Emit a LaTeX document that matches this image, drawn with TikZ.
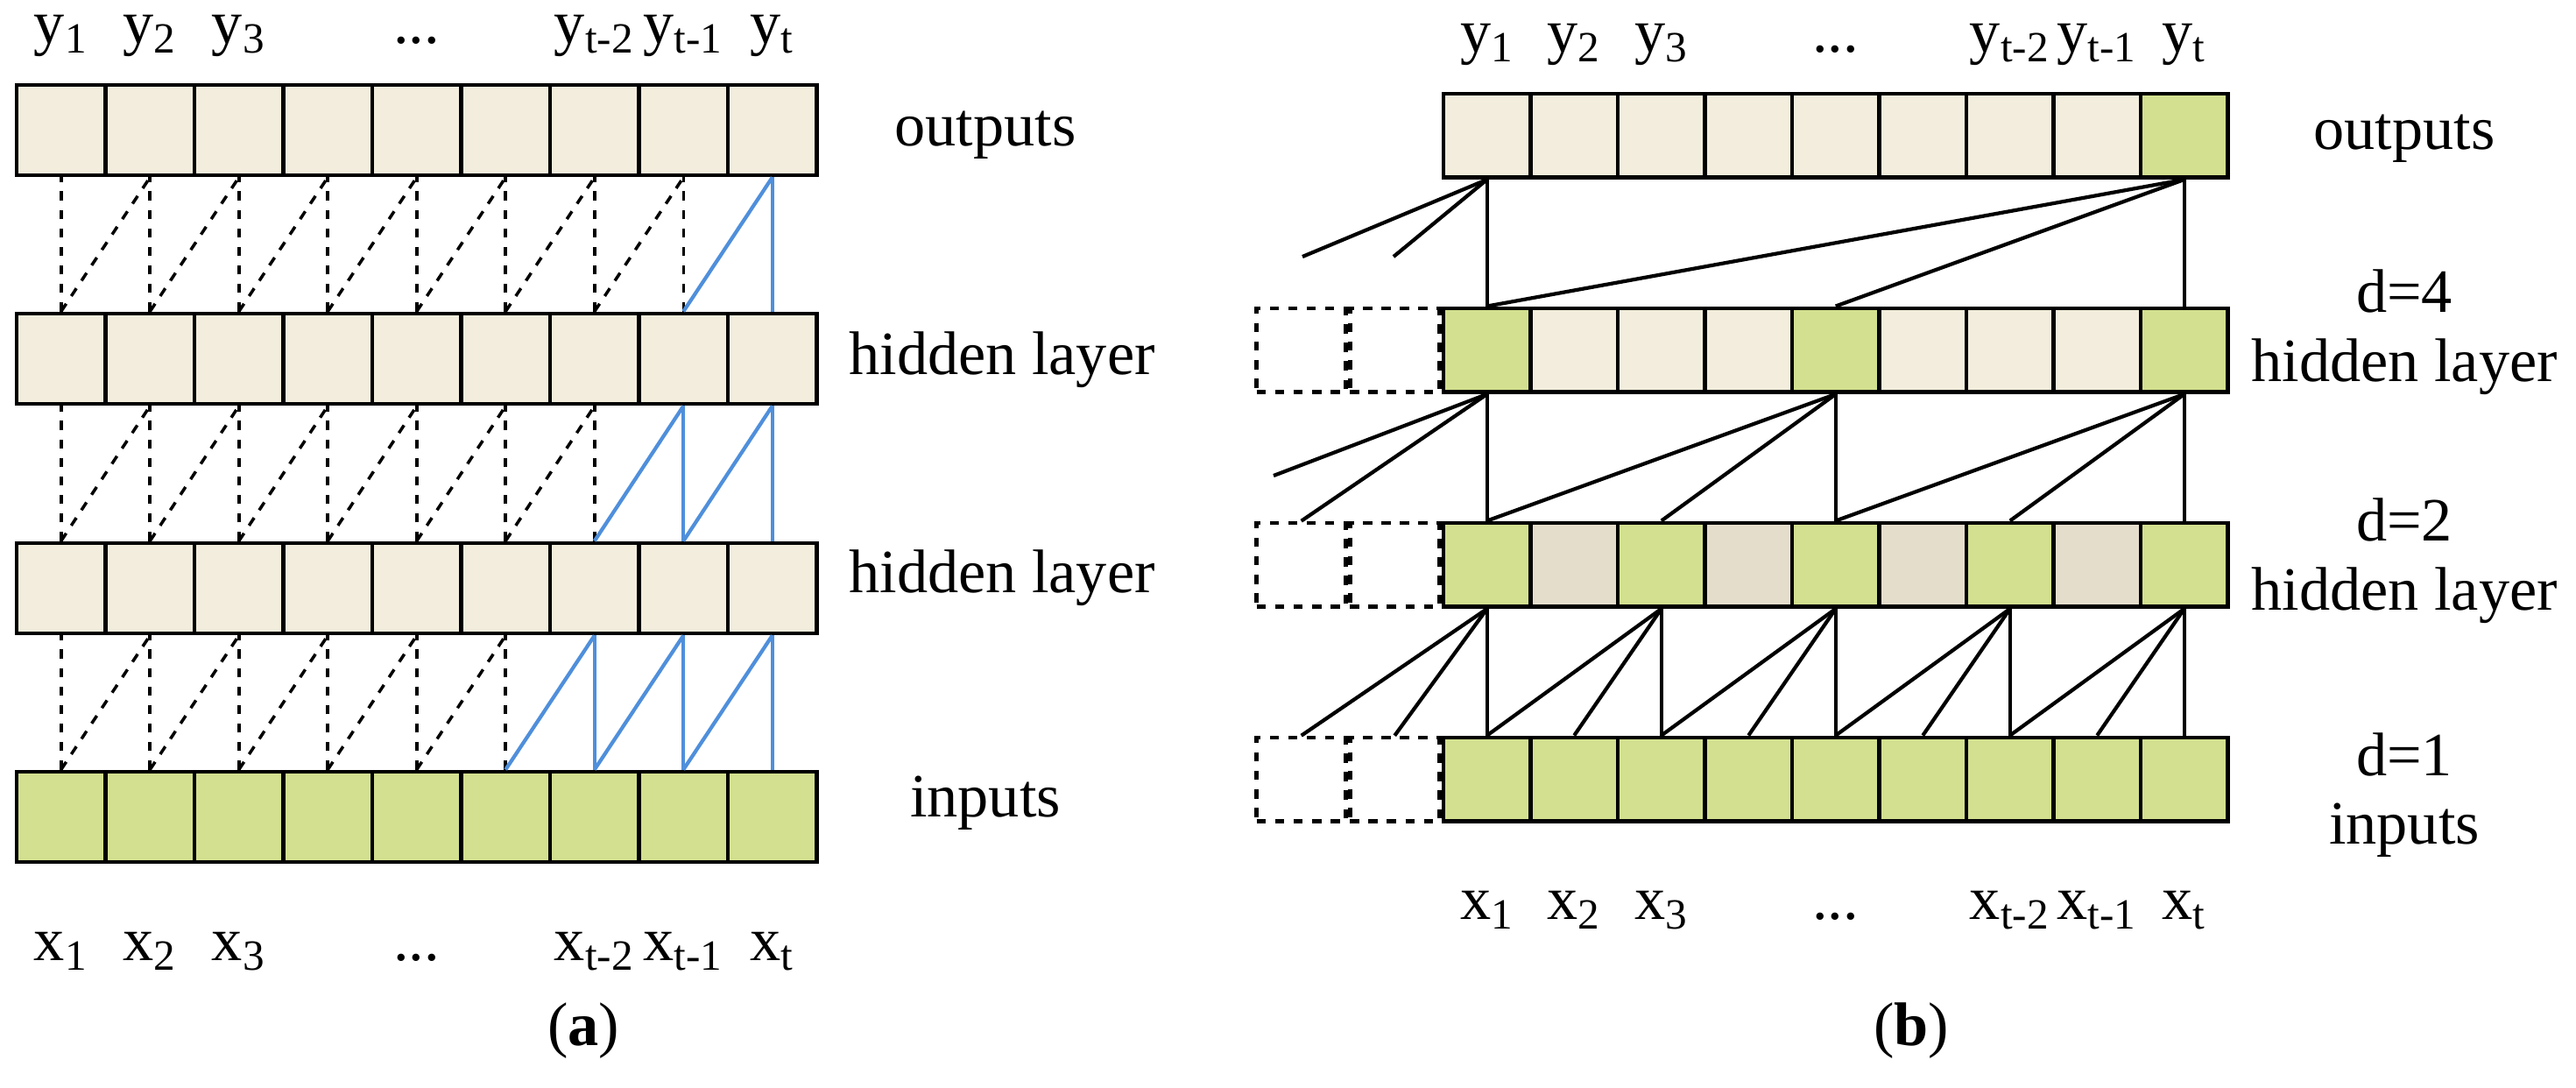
\documentclass[tikz,border=0pt]{standalone}
\usepackage{fontspec}
\setmainfont{Liberation Serif}
\definecolor{beige}{HTML}{F2EDDC}
\definecolor{leaf}{HTML}{D2E08F}
\definecolor{sand}{HTML}{E5DDCC}
\definecolor{blu}{HTML}{4F8FDB}
\tikzset{
  cella/.style={draw, line width=1.4pt, minimum width=1.015cm, minimum height=1.03cm, inner sep=0pt},
  cellb/.style={draw, line width=1.4pt, minimum width=0.995cm, minimum height=0.955cm, inner sep=0pt},
  ghost/.style={draw, dashed, line width=1.3pt, minimum width=1.02cm, minimum height=0.955cm, inner sep=0pt},
  lbl/.style={font=\fontsize{20}{24}\selectfont, inner sep=0pt},
  dsh/.style={dashed, line width=1pt},
  bl/.style={blu, line width=1.2pt},
  lnk/.style={line width=1.2pt}
}
\begin{document}
\begin{tikzpicture}
  \useasboundingbox (0,0) rectangle (29.41,-12.41);

  % (a) rows
  \foreach \r/\yy in {0/-9.325,1/-6.715,2/-4.095,3/-1.485}
    \foreach \i in {1,...,9} {
      \ifnum\r=0 \def\fc{leaf}\else \def\fc{beige}\fi
      \node[cella, fill=\fc] (a\r-\i) at ({0.19+1.015*(\i-0.5)},\yy) {};
    }

  % (a) links
  \foreach \r in {1,2,3} {
    \pgfmathtruncatemacro\rl{\r-1}
    \foreach \i in {1,...,9} {
      \ifnum\i>\numexpr5+\r\relax
        \draw[bl] (a\rl-\i.north) -- (a\r-\i.south);
      \else
        \draw[dsh] (a\rl-\i.north) -- (a\r-\i.south);
      \fi
    }
    \foreach \i in {1,...,8} {
      \pgfmathtruncatemacro\ii{\i+1}
      \ifnum\i>\numexpr4+\r\relax
        \draw[bl] (a\rl-\i.north) -- (a\r-\ii.south);
      \else
        \draw[dsh] (a\rl-\i.north) -- (a\r-\ii.south);
      \fi
    }
  }

  % (b) rows
  \foreach \r/\yy in {0/-8.8975,1/-6.4475,2/-3.9975,3/-1.5475}
    \foreach \i in {1,...,9} {
      \def\fc{beige}
      \ifnum\r=0 \def\fc{leaf}\fi
      \ifnum\r=1 \ifodd\i \def\fc{leaf}\else \def\fc{sand}\fi\fi
      \ifnum\r=2 \ifnum\i=1 \def\fc{leaf}\fi \ifnum\i=5 \def\fc{leaf}\fi \ifnum\i=9 \def\fc{leaf}\fi\fi
      \ifnum\r=3 \ifnum\i=9 \def\fc{leaf}\fi\fi
      \node[cellb, fill=\fc] (b\r-\i) at ({16.48+0.995*(\i-0.5)},\yy) {};
    }
  % padding cells
  \foreach \r in {0,1,2} {
    \node[ghost, anchor=east] (p\r-0) at (b\r-1.west) {};
    \node[ghost, anchor=east] (p\r-1) at (p\r-0.west) {};
  }
  \coordinate (f1) at (14.54,-5.43);
  \coordinate (f2) at (14.87,-2.93);
  \coordinate (f3) at (15.91,-2.93);

  % (b) links, d=1
  \draw[lnk] (b1-1.south) -- (b0-1.north);
  \draw[lnk] (b1-1.south) -- (p0-0.north);
  \draw[lnk] (b1-1.south) -- (p0-1.north);
  \foreach \j in {3,5,7,9} {
    \pgfmathtruncatemacro\ja{\j-1}
    \pgfmathtruncatemacro\jb{\j-2}
    \draw[lnk] (b1-\j.south) -- (b0-\j.north);
    \draw[lnk] (b1-\j.south) -- (b0-\ja.north);
    \draw[lnk] (b1-\j.south) -- (b0-\jb.north);
  }
  % d=2
  \draw[lnk] (b2-1.south) -- (b1-1.north);
  \draw[lnk] (b2-1.south) -- (p1-1.north);
  \draw[lnk] (b2-1.south) -- (f1);
  \foreach \j in {5,9} {
    \pgfmathtruncatemacro\ja{\j-2}
    \pgfmathtruncatemacro\jb{\j-4}
    \draw[lnk] (b2-\j.south) -- (b1-\j.north);
    \draw[lnk] (b2-\j.south) -- (b1-\ja.north);
    \draw[lnk] (b2-\j.south) -- (b1-\jb.north);
  }
  % d=4
  \draw[lnk] (b3-9.south) -- (b2-9.north);
  \draw[lnk] (b3-9.south) -- (b2-5.north);
  \draw[lnk] (b3-9.south) -- (b2-1.north);
  \draw[lnk] (b3-1.south) -- (b2-1.north);
  \draw[lnk] (b3-1.south) -- (f2);
  \draw[lnk] (b3-1.south) -- (f3);

  % top and bottom labels
  \foreach \i/\s in {1/1,2/2,3/3,7/t-2,8/t-1,9/t} {
    \node[lbl, anchor=base] (ya\i) at ([yshift=0.45cm]a3-\i.north) {y\textsubscript{\s}};
    \node[lbl, anchor=base] (xa\i) at ([yshift=-1.1cm]a0-\i.south) {x\textsubscript{\s}};
    \node[lbl, anchor=base] (yb\i) at ([yshift=0.45cm]b3-\i.north) {y\textsubscript{\s}};
    \node[lbl, anchor=base] (xb\i) at ([yshift=-1.1cm]b0-\i.south) {x\textsubscript{\s}};
  }
  \node[lbl, anchor=base] (ya5) at ([yshift=0.45cm]a3-5.north) {...};
  \node[lbl, anchor=base] (xa5) at ([yshift=-1.1cm]a0-5.south) {...};
  \node[lbl, anchor=base] (yb5) at ([yshift=0.45cm]b3-5.north) {...};
  \node[lbl, anchor=base] (xb5) at ([yshift=-1.1cm]b0-5.south) {...};

  % side labels
  \node[lbl] (outa) at (11.25,-1.54) {outputs};
  \node[lbl] (hida2) at (11.44,-4.11) {hidden layer};
  \node[lbl] (hida1) at (11.44,-6.60) {hidden layer};
  \node[lbl] (ina) at (11.25,-9.17) {inputs};
  \node[lbl] (outb) at (27.45,-1.58) {outputs};
  \node[lbl] (d4) at (27.45,-3.32) {d=4};
  \node[lbl] (hidb2) at (27.45,-4.19) {hidden layer};
  \node[lbl] (d2) at (27.45,-5.93) {d=2};
  \node[lbl] (hidb1) at (27.45,-6.80) {hidden layer};
  \node[lbl] (d1) at (27.45,-8.61) {d=1};
  \node[lbl] (inb) at (27.45,-9.48) {inputs};
  \node[lbl] (capa) at (6.66,-11.77) {(\textbf{a})};
  \node[lbl] (capb) at (21.82,-11.77) {(\textbf{b})};
\end{tikzpicture}
\end{document}
